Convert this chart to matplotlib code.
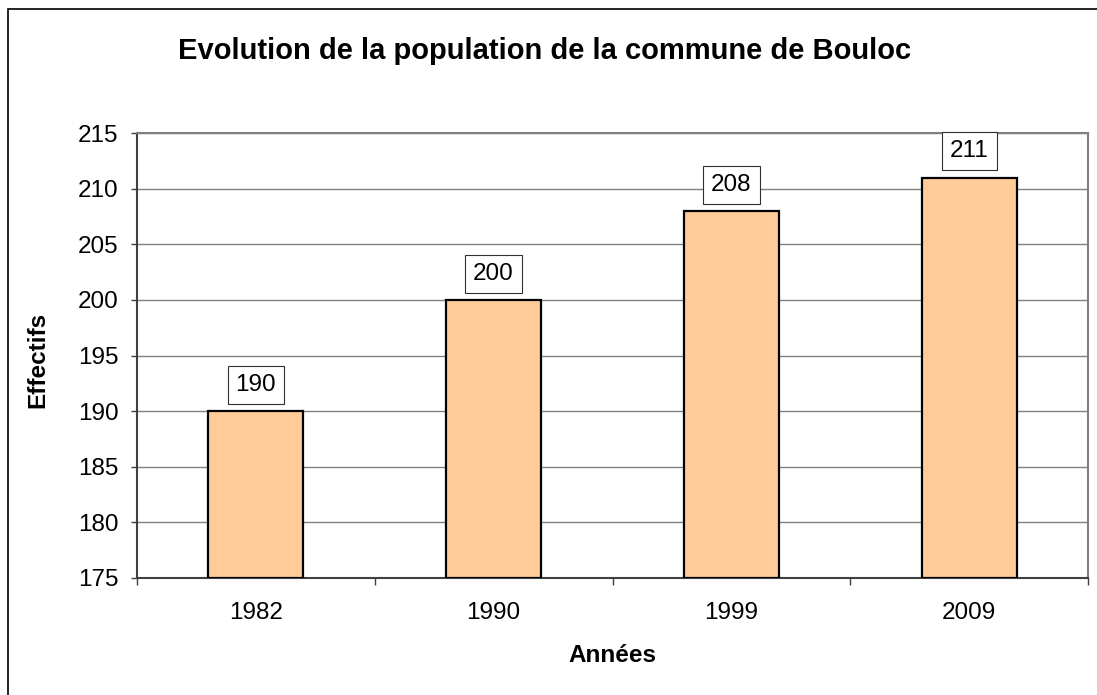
import matplotlib.pyplot as plt
from matplotlib.patches import Rectangle

plt.rcParams['font.family'] = ['Liberation Sans', 'DejaVu Sans']

# data
annees = ['1982', '1990', '1999', '2009']
effectifs = [190, 200, 208, 211]
yticks = [175, 180, 185, 190, 195, 200, 205, 210, 215]

fig = plt.figure(figsize=(10.97, 6.95), dpi=100)
ax = fig.add_axes([137 / 1097, 1 - 578 / 695, 951 / 1097, 445 / 695])

# figure border (right and bottom edges fall outside the picture)
fig.patches.append(Rectangle((8 / 1097, -0.1), 1.2, 1 - 9 / 695 + 0.1,
                             transform=fig.transFigure, fill=False,
                             edgecolor='black', linewidth=1.2))

x = list(range(len(annees)))
ax.bar(x, [v - 175 for v in effectifs], bottom=175, width=0.4,
       color='#FFCC99', edgecolor='black', linewidth=1.6, zorder=3)

for xi, v in zip(x, effectifs):
    ax.annotate(str(v), (xi, v), xytext=(0, 11), textcoords='offset points',
                ha='center', va='bottom', fontsize=17.5, zorder=4,
                bbox=dict(boxstyle='square,pad=0.33', facecolor='white',
                          edgecolor='#303030', linewidth=0.8))

ax.set_xlim(-0.5, len(annees) - 0.5)
ax.set_ylim(175, 215)
ax.set_yticks(yticks)
ax.set_yticklabels([str(t) for t in yticks], fontsize=17.5)
ax.yaxis.grid(True, color='#808080', linewidth=1.0, zorder=0)

ax.set_xticks(x)
ax.set_xticklabels(annees, fontsize=17.5)
ax.tick_params(axis='x', length=0, pad=17)
ax.set_xticks([i - 0.5 for i in range(len(annees) + 1)], minor=True)
ax.tick_params(axis='x', which='minor', length=5, width=1, color='#404040')
ax.tick_params(axis='y', length=4.3, width=1, color='#404040', pad=9)

for side in ['top', 'right']:
    ax.spines[side].set_color('#808080')
    ax.spines[side].set_linewidth(1.5)
for side in ['left', 'bottom']:
    ax.spines[side].set_color('#404040')
    ax.spines[side].set_linewidth(1.5)

ax.set_xlabel('Années', fontsize=17.5, fontweight='bold', va='center')
ax.xaxis.set_label_coords((612 - 137) / 951, (578 - 656) / 445)
ax.set_ylabel('Effectifs', fontsize=17.5, fontweight='bold', va='center')
ax.yaxis.set_label_coords((38 - 137) / 951, (578 - 360) / 445)
fig.text(545 / 1097, 1 - 51 / 695, 'Evolution de la population de la commune de Bouloc',
         ha='center', va='center', fontsize=21, fontweight='bold')

fig.savefig('out.png', dpi=100)
